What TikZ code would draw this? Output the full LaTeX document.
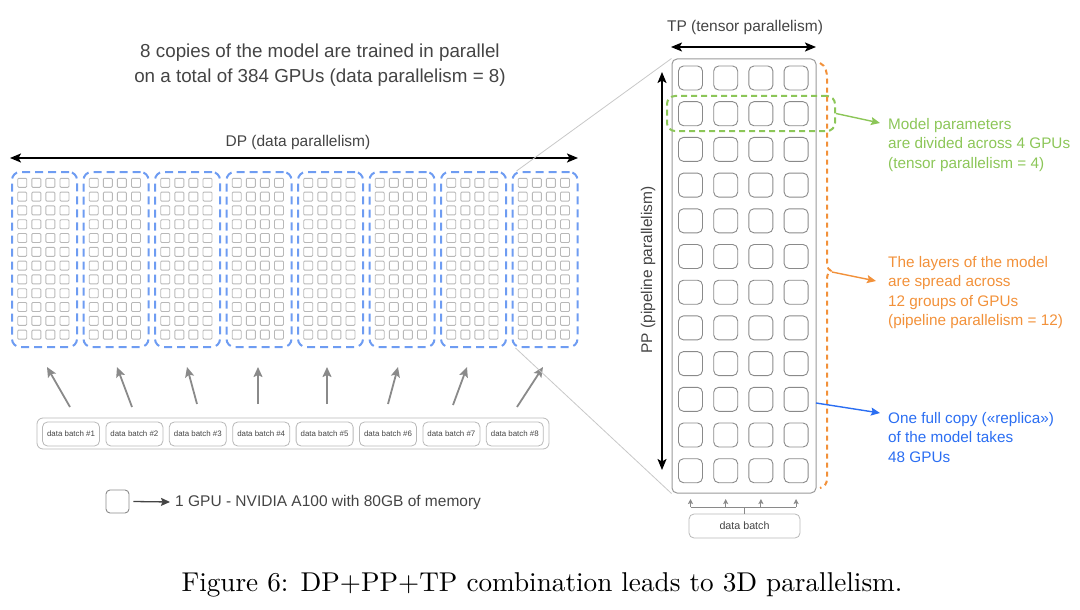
\documentclass[tikz,border=0pt]{standalone}
\usepackage{fontspec}
\newfontfamily\sansf{Liberation Sans}
\newfontfamily\capfont{lmroman10-regular}[Extension=.otf]
\usetikzlibrary{arrows.meta}
\definecolor{txt}{HTML}{444444}
\definecolor{dpblue}{HTML}{6E9CF2}
\definecolor{sqgray}{HTML}{B8B8B8}
\definecolor{gpugray}{HTML}{8A8A8A}
\definecolor{boxgray}{HTML}{9A9A9A}
\definecolor{tpgreen}{HTML}{8CC658}
\definecolor{pporange}{HTML}{F2913A}
\definecolor{repblue}{HTML}{2B6EF2}
\definecolor{arrgray}{HTML}{8A8A8A}
\definecolor{zoomgray}{HTML}{C8C8C8}
\begin{document}
\begin{tikzpicture}[x=1pt,y=-1pt,
  lbl/.style={font=\sansf\fontsize{15.5}{19.5}\selectfont, text=txt, inner sep=0pt},
  titletxt/.style={font=\sansf\fontsize{18.8}{25}\selectfont, text=txt, inner sep=0pt, align=center},
  sidetxt/.style={font=\sansf\fontsize{15.3}{19.6}\selectfont, inner sep=0pt, align=left, anchor=west},
  repbox/.style={draw=dpblue, line width=2pt, dash pattern=on 8pt off 5pt, rounded corners=8pt, minimum width=65pt, minimum height=175pt, inner sep=0pt},
  minisq/.style={draw=sqgray, line width=0.9pt, rounded corners=1pt},
  gpu/.style={draw=gpugray, line width=0.9pt, rounded corners=5pt, minimum size=24pt, inner sep=0pt},
  bigbox/.style={draw=boxgray, line width=1pt, rounded corners=5pt, minimum width=144pt, minimum height=434pt, inner sep=0pt},
  batchbox/.style={draw=sqgray, line width=0.8pt, rounded corners=5pt, minimum width=57pt, minimum height=24pt, inner sep=0pt, font=\sansf\fontsize{7.9}{9}\selectfont, text=txt},
  dimarrow/.style={draw=black, line width=1.6pt, {Stealth[length=11pt,width=9pt,inset=2.5pt]}-{Stealth[length=11pt,width=9pt,inset=2.5pt]}},
  feedarrow/.style={draw=arrgray, line width=1.8pt, -{Stealth[length=10pt,width=9pt,inset=2pt]}},
  smallfeed/.style={draw=arrgray, line width=1pt},
  callout/.style={line width=1.4pt, -{Stealth[length=9pt,width=8pt,inset=1.5pt]}},
  zoomline/.style={draw=zoomgray, line width=0.8pt}]
\useasboundingbox (0,0) rectangle (1080,610);

% title
\node[titletxt] (title) at (320,65) {8 copies of the model are trained in parallel\\on a total of 384 GPUs (data parallelism = 8)};

% DP arrow
\coordinate (dpl) at (10,158);
\coordinate (dpr) at (578,158);
\draw[dimarrow] (dpl) -- (dpr);
\node[lbl] (dplbl) at (298,142) {DP (data parallelism)};

% replicas
\foreach \k in {1,...,8}{
  \pgfmathsetmacro\cx{44.5+71.5*(\k-1)}
  \node[repbox] (rep\k) at (\cx,259.5) {};
  \foreach \c in {0,...,3}{
    \foreach \r in {0,...,11}{
      \draw[minisq] ({\cx-26.8+14.1*\c},{178.3+13.8*\r}) rectangle ++(9,9);
    }
  }
}

% data batches
\node[draw=sqgray, line width=0.8pt, rounded corners=6pt, minimum width=512pt, minimum height=31pt, inner sep=0pt] (batches) at (293,433.5) {};
\foreach \k in {1,...,8}{
  \node[batchbox] (bat\k) at ({71+63.4*(\k-1)},434) {data batch \#\k};
}

% feed arrows
\foreach \k/\sx/\ex/\sy in {1/70/47/407, 2/132/117/407, 3/197/187/404, 4/258/258/404, 5/327/327/404, 6/388/398/404, 7/453/467/405, 8/517/543/407}{
  \coordinate (fs\k) at (\sx,\sy);
  \coordinate (fe\k) at (\ex,367);
  \draw[feedarrow] (fs\k) -- (fe\k);
}

% legend
\node[gpu, minimum size=23pt, rounded corners=4pt] (lg) at (117.5,501.5) {};
\node[lbl, anchor=west] (lgt) at (175,502) {1 GPU - NVIDIA A100 with 80GB of memory};
\draw[draw=txt, line width=1.3pt, -{Stealth[length=9pt,width=8pt,inset=1.5pt]}] ([xshift=4pt]lg.east) -- ([xshift=-5pt]lgt.west);

% right panel
\node[bigbox] (big) at (744,276) {};
\foreach \r in {0,...,11}{
  \foreach \c in {0,...,3}{
    \node[gpu] (g\r-\c) at ({690.5+35.2*\c},{78+35.7*\r}) {};
  }
}

% zoom lines
\draw[zoomline] ([xshift=5pt]rep8.north west) -- (big.north west);
\draw[zoomline] ([xshift=4pt]rep8.south west) -- (big.south west);

% TP arrow
\coordinate (tpl) at (671,47);
\coordinate (tpr) at (816,47);
\draw[dimarrow] (tpl) -- (tpr);
\node[lbl] (tplbl) at (745,27) {TP (tensor parallelism)};

% PP arrow
\coordinate (ppt) at (662,72);
\coordinate (ppb) at (662,470);
\draw[dimarrow] (ppt) -- (ppb);
\node[lbl, rotate=90] (pplbl) at (648,270) {PP (pipeline parallelism)};

% green group
\node[draw=tpgreen, line width=2pt, dash pattern=on 6pt off 4pt, rounded corners=8pt, minimum width=168pt, minimum height=35pt, inner sep=0pt] (gbox) at (751,113.5) {};

% orange bracket
\draw[draw=pporange, line width=2pt, dash pattern=on 5pt off 4pt]
  (820,63) .. controls (826,66) and (827,72) .. (827,79) -- (827,263)
  .. controls (827,268) and (829,270) .. (831,271)
  .. controls (829,272) and (827,274) .. (827,279) -- (827,478)
  .. controls (827,484) and (825,486) .. (820,488);
\coordinate (otip) at (832,272);

% side texts
\node[sidetxt, text=tpgreen] (tgt) at (888,145) {Model parameters\\are divided across 4 GPUs\\(tensor parallelism = 4)};
\node[sidetxt, text=pporange] (tot) at (888,292.5) {The layers of the model\\are spread across\\12 groups of GPUs\\(pipeline parallelism = 12)};
\node[sidetxt, text=repblue] (tbt) at (888,437.5) {One full copy («replica»)\\of the model takes\\48 GPUs};

\coordinate (ge) at (880,123);
\coordinate (oe) at (876,281);
\coordinate (bs) at (816,403);
\coordinate (be) at (880,413);
\draw[callout, draw=tpgreen, fill=tpgreen] (gbox.east) -- (ge);
\draw[callout, draw=pporange, fill=pporange] (otip) -- (oe);
\draw[callout, draw=repblue, fill=repblue] (bs) -- (be);

% right data batch
\node[draw=sqgray, line width=0.8pt, rounded corners=5pt, minimum width=111pt, minimum height=24pt, inner sep=0pt, font=\sansf\fontsize{10.7}{12}\selectfont, text=txt] (db) at (744.5,526) {data batch};
\coordinate (bus) at (744.5,507);
\draw[smallfeed] (db.north) -- (bus);
\draw[smallfeed] (g11-0 |- bus) -- (g11-3 |- bus);
\foreach \c in {0,...,3}{
  \draw[smallfeed, -{Stealth[length=5pt,width=5pt,inset=1pt]}] (g11-\c |- bus) -- ++(0,-8);
}

% caption
\node[font=\capfont\fontsize{27.2}{32}\selectfont, inner sep=0pt, anchor=base] (cap) at (542,591) {Figure 6: DP+PP+TP combination leads to 3D parallelism.};
\end{tikzpicture}
\end{document}
